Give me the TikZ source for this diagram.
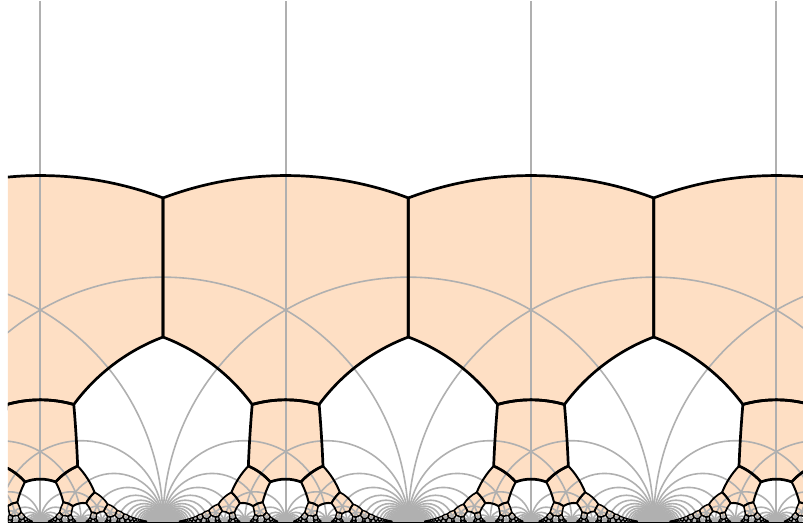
\documentclass[tikz,border=0pt]{standalone}
\definecolor{tileorange}{RGB}{254,223,196}
\definecolor{gridgray}{RGB}{176,176,176}
\tikzset{
  tilefill/.style={fill=tileorange},
  tileedge/.style={draw=black,line join=round,line cap=round},
  gridline/.style={draw=gridgray,line width=1.6pt},
  vgridline/.style={draw=gridgray,line width=1.9pt},
  axisline/.style={draw=black,line width=1.5pt},
}
\def\hySc{245.33}
\edef\hyHv{\fpeval{sqrt(7)/2}}
\edef\hyHi{\fpeval{2/sqrt(7)}}
\edef\hyHd{\fpeval{2*sqrt(7)/11}}
\edef\hySv{\fpeval{7/11}}
\edef\hyFv{\fpeval{4/11}}
\newcount\hyT \newcount\hyU \newcount\hyMn
\newcount\hyNtile \newcount\hyNgray \newcount\hyI
\hyNtile=0 \hyNgray=0
\def\hyGmax{150}
\def\hyTmax{240}

% geodesic segment between stored vertices #1 -> #2
\def\hySeg#1#2{%
  \edef\hyxa{\csname hyX#1\endcsname}\edef\hyya{\csname hyY#1\endcsname}%
  \edef\hyxb{\csname hyX#2\endcsname}\edef\hyyb{\csname hyY#2\endcsname}%
  \edef\hydx{\fpeval{\hyxb-(\hyxa)}}%
  \ifnum\fpeval{abs(\hydx)<0.0001}=1
    \edef\hySpec{\hySpec\space-- (\fpeval{round(\hyxb,3)}pt,\fpeval{round(\hyyb,3)}pt)}%
  \else
    \edef\hyc{\fpeval{\hyxa+((\hydx)^2+(\hyyb)^2-(\hyya)^2)/(2*(\hydx))}}%
    \edef\hyta{\fpeval{round(atand(\hyya,\hyxa-(\hyc)),4)}}%
    \edef\hytb{\fpeval{round(atand(\hyyb,\hyxb-(\hyc)),4)}}%
    \edef\hyR{\fpeval{round(sqrt((\hyxa-(\hyc))^2+(\hyya)^2),4)}}%
    \edef\hySpec{\hySpec\space arc[start angle=\hyta,end angle=\hytb,radius=\hyR pt]}%
  \fi}

\def\hyMakeTile{%
  \edef\hySpec{(\fpeval{round(\hyXA,3)}pt,\fpeval{round(\hyYA,3)}pt)}%
  \hySeg AB\hySeg BC\hySeg CD\hySeg DE\hySeg EF\hySeg FA%
  \edef\hySpec{\hySpec\space-- cycle}%
  \global\advance\hyNtile by 1\relax
  \expandafter\xdef\csname hyTs\the\hyNtile\endcsname{\hySpec}%
  \expandafter\xdef\csname hyTw\the\hyNtile\endcsname{\hyLw}%
  \edef\hyCmd{\noexpand\path[tilefill] \hySpec;}\hyCmd}

% image of vertex (#5,#6) under z -> (#3 z + #1)/(#4 z + #2)
\def\hyImg#1#2#3#4#5#6#7{%
  \edef\hyDen{\fpeval{((#4)*(#5)+(#2))^2+((#4)*(#6))^2}}%
  \expandafter\edef\csname hyX#7\endcsname{\fpeval{\hySc*((#3)*(#4)*((#5)^2+(#6)^2)+((#3)*(#2)+(#1)*(#4))*(#5)+(#1)*(#2))/\hyDen}}%
  \expandafter\edef\csname hyY#7\endcsname{\fpeval{\hySc*(#6)/\hyDen}}}

\def\hyFareyTile#1#2#3#4{%
  \hyImg{#1}{#2}{#3}{#4}{0}{\hyHv}{A}%
  \hyImg{#1}{#2}{#3}{#4}{1}{\hyHv}{B}%
  \hyImg{#1}{#2}{#3}{#4}{1}{\hyHi}{C}%
  \hyImg{#1}{#2}{#3}{#4}{\hySv}{\hyHd}{D}%
  \hyImg{#1}{#2}{#3}{#4}{\hyFv}{\hyHd}{E}%
  \hyImg{#1}{#2}{#3}{#4}{0}{\hyHi}{F}%
  \edef\hyLw{\fpeval{round(0.75+1.95*sqrt(3/((#2)*(#2)+(#2)*(#4)+(#4)*(#4))),3)}}%
  \hyMakeTile}

\def\hyTopTile#1{%
  \edef\hyXA{\fpeval{\hySc*(#1)}}\edef\hyYA{\fpeval{\hySc*\hyHv}}%
  \edef\hyXB{\fpeval{\hySc*(#1+1)}}\edef\hyYB{\hyYA}%
  \edef\hyXC{\hyXB}\edef\hyYC{\fpeval{\hySc*\hyHi}}%
  \edef\hyXD{\fpeval{\hySc*(#1+\hySv)}}\edef\hyYD{\fpeval{\hySc*\hyHd}}%
  \edef\hyXE{\fpeval{\hySc*(#1+\hyFv)}}\edef\hyYE{\hyYD}%
  \edef\hyXF{\hyXA}\edef\hyYF{\hyYC}%
  \def\hyLw{2.7}%
  \hyMakeTile}

\def\hyStoreGray#1#2#3#4{%
  \global\advance\hyNgray by 1\relax
  \expandafter\xdef\csname hyGc\the\hyNgray\endcsname{\fpeval{round(\hySc*((#1+#3)/(#2+#4)+(#3-(#1))/(#4-(#2)))/2,3)}}%
  \expandafter\xdef\csname hyGr\the\hyNgray\endcsname{\fpeval{round(\hySc/\the\hyT,3)}}}

\def\hyTest#1#2{%
  \def\hyRes{0}%
  \ifnum#1<#2\relax\hyMn=#1\relax\else\hyMn=#2\relax\fi
  \ifnum\numexpr\hyMn*(#1+#2+\hyMn)\relax<\hyGmax\relax\def\hyRes{1}\fi
  \ifnum\numexpr(#1)*(#1)+(#1)*(#2)+(#2)*(#2)\relax<\hyTmax\relax\def\hyRes{1}\fi
  \hyU=\numexpr(#2)*(#2)-(#1)*(#1)\relax
  \ifnum\hyU<0 \hyU=-\hyU\fi
  \ifnum\hyU>0 \ifnum\hyU<\hyGmax\relax\def\hyRes{1}\fi\fi}

% Farey edge #1/#2 < #3/#4
\def\hyFarey#1#2#3#4{%
  \hyT=\numexpr(#4)*(#4)-(#2)*(#2)\relax
  \ifnum\hyT<0 \hyT=-\hyT\fi
  \ifnum\hyT>0 \ifnum\hyT<\hyGmax\relax\hyStoreGray{#1}{#2}{#3}{#4}\fi\fi
  \ifnum\numexpr(#2)*(#2)+(#2)*(#4)+(#4)*(#4)\relax<\hyTmax\relax\hyFareyTile{#1}{#2}{#3}{#4}\fi
  \edef\hyMp{\the\numexpr(#1)+(#3)\relax}%
  \edef\hyMq{\the\numexpr(#2)+(#4)\relax}%
  \hyTest{#2}{\hyMq}\let\hyGoL\hyRes
  \hyTest{\hyMq}{#4}\let\hyGoR\hyRes
  \edef\hyNext{%
    \ifnum\hyGoL=1 \noexpand\hyFarey{#1}{#2}{\hyMp}{\hyMq}\fi
    \ifnum\hyGoR=1 \noexpand\hyFarey{\hyMp}{\hyMq}{#3}{#4}\fi}%
  \hyNext}

\def\hyGrayOne{\edef\hyCmd{\noexpand\path[gridline] (\csname hyGc\the\hyI\endcsname pt,0pt) circle[radius=\csname hyGr\the\hyI\endcsname pt];}\hyCmd}
\def\hyGrayLoop{\ifnum\hyI<\hyNgray \advance\hyI by 1\relax \hyGrayOne\expandafter\hyGrayLoop\fi}
\def\hyEdgeOne{\edef\hyCmd{\noexpand\path[tileedge,line width=\csname hyTw\the\hyI\endcsname pt] \csname hyTs\the\hyI\endcsname;}\hyCmd}
\def\hyEdgeLoop{\ifnum\hyI<\hyNtile \advance\hyI by 1\relax \hyEdgeOne\expandafter\hyEdgeLoop\fi}

\begin{document}
\begin{tikzpicture}[x=1pt,y=1pt]
\useasboundingbox (-163,-1.5) rectangle (640,522.5);
\begin{scope}
\clip (-155,0) rectangle (640,520.5);
% orange tiles (fills)
\hyTopTile{-1}\hyTopTile{0}\hyTopTile{1}\hyTopTile{2}
\hyFarey{-1}{1}{0}{1}\hyFarey{0}{1}{1}{1}\hyFarey{1}{1}{2}{1}\hyFarey{2}{1}{3}{1}
% gray geodesics
\path[vgridline] (-122.665,0) -- (-122.665,530) (122.665,0) -- (122.665,530)
  (367.995,0) -- (367.995,530) (613.325,0) -- (613.325,530);
\path[gridline] (-245.33,0) circle[radius=245.33pt] (0,0) circle[radius=245.33pt]
  (245.33,0) circle[radius=245.33pt] (490.66,0) circle[radius=245.33pt]
  (735.99,0) circle[radius=245.33pt];
\hyI=0 \hyGrayLoop
% black tile edges
\hyI=0 \hyEdgeLoop
\end{scope}
\path[axisline] (-155,0) -- (640,0);
\end{tikzpicture}
\end{document}
